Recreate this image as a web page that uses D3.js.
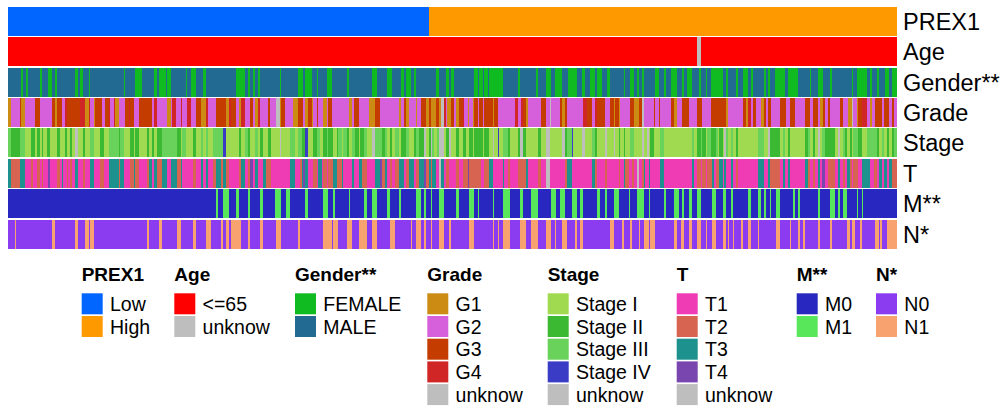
<!DOCTYPE html>
<html>
<head>
<meta charset="utf-8">
<script src="https://cdn.jsdelivr.net/npm/d3@7"></script>
<style>
  body { margin: 0; background: #fff; }
  text { font-family: "Liberation Sans", Arial, Helvetica, sans-serif; fill: #000; }
</style>
</head>
<body>
<svg id="chart" width="1005" height="411"></svg>
<script>

/////////////////////////////////
// DATA (one entry per sample)
//////////////////////////////////

var nSamples = 530;

// PREX1: the first samples are Low, the rest High
var prex1LowCount = 251;

// Age: everything is <=65 except these [start, end) samples
var ageUnknown = [[411, 413]];

// Gender: MALE except these FEMALE [start, end) samples
var genderFemale = [[8,9],[11,12],[19,20],[24,26],[28,29],[40,42],[43,45],[48,49],[69,70],[76,80],
  [87,89],[90,94],[95,97],[106,107],[109,112],[116,118],[136,141],[143,144],[146,147],[149,150],
  [162,163],[173,176],[177,181],[184,185],[190,193],[202,203],[217,220],[226,229],[234,236],[237,240],
  [242,243],[255,257],[261,263],[264,266],[278,280],[281,283],[284,286],[287,295],[304,305],[315,316],
  [321,324],[326,330],[334,339],[342,344],[347,350],[351,354],[357,359],[367,368],[371,373],[375,376],
  [378,379],[386,388],[391,392],[395,399],[402,403],[405,408],[412,413],[416,417],[419,426],[428,429],
  [434,435],[438,441],[443,444],[451,452],[453,454],[457,463],[465,471],[478,479],[483,486],[490,491],
  [503,504],[506,512],[514,515],[518,519],[523,525],[527,530]];

// Grade: [first sample, category] change points
var gradeBreaks = [[0,"G1"],[2,"G2"],[7,"G3"],[8,"G1"],[10,"G2"],[16,"G3"],[19,"G2"],[26,"G3"],[28,"G1"],[29,"G3"],
  [32,"G2"],[34,"G4"],[35,"G3"],[43,"G4"],[46,"G1"],[48,"G4"],[49,"G2"],[51,"G1"],[52,"G3"],[56,"G2"],
  [58,"G3"],[60,"G4"],[61,"G2"],[63,"G4"],[64,"G1"],[66,"G2"],[70,"G3"],[72,"G4"],[73,"G3"],[75,"G2"],
  [78,"G3"],[86,"G2"],[87,"G4"],[89,"G2"],[95,"G1"],[97,"G2"],[98,"G4"],[100,"G2"],[103,"G4"],[104,"G2"],
  [107,"G4"],[109,"G2"],[112,"G3"],[115,"G1"],[118,"G4"],[119,"G2"],[124,"G3"],[130,"G1"],[132,"G4"],[133,"G3"],
  [136,"G2"],[138,"G1"],[139,"G4"],[141,"G2"],[144,"G3"],[146,"G2"],[147,"G1"],[149,"G4"],[150,"G2"],[155,"G3"],
  [156,"G2"],[160,"U"],[162,"G1"],[163,"G3"],[165,"G2"],[170,"G1"],[173,"G3"],[176,"G2"],[177,"G1"],[179,"G3"],
  [181,"G1"],[182,"G2"],[184,"G3"],[185,"G2"],[188,"G1"],[190,"G2"],[191,"G3"],[193,"G2"],[203,"G1"],[205,"G2"],
  [206,"G3"],[209,"G2"],[215,"G1"],[219,"G3"],[222,"G2"],[233,"G1"],[234,"G2"],[236,"G3"],[237,"G1"],[239,"G2"],
  [243,"G1"],[244,"G2"],[246,"G3"],[249,"G1"],[251,"G3"],[252,"G1"],[255,"G3"],[257,"G1"],[258,"U"],[260,"G4"],
  [261,"G2"],[262,"G1"],[264,"G3"],[266,"G2"],[267,"G1"],[269,"G3"],[271,"G4"],[272,"G2"],[274,"G1"],[275,"G2"],
  [277,"G1"],[278,"G3"],[280,"G2"],[281,"G3"],[283,"G2"],[284,"G3"],[289,"G1"],[290,"G3"],[292,"G2"],[302,"G4"],
  [304,"G2"],[306,"G4"],[307,"G3"],[309,"G1"],[310,"G2"],[318,"G3"],[321,"G2"],[323,"U"],[324,"G2"],[329,"G3"],
  [330,"G1"],[332,"G3"],[333,"G2"],[343,"G4"],[345,"G3"],[348,"G2"],[350,"G4"],[351,"G3"],[356,"G2"],[359,"G3"],
  [361,"G1"],[362,"G3"],[364,"G1"],[365,"G2"],[371,"G3"],[373,"G1"],[376,"G3"],[378,"U"],[379,"G2"],[385,"G3"],
  [386,"G2"],[388,"G3"],[389,"G2"],[395,"G3"],[397,"G1"],[399,"G2"],[402,"G3"],[406,"G2"],[411,"G3"],[414,"G2"],
  [419,"G3"],[428,"G1"],[429,"G2"],[438,"G3"],[440,"G1"],[441,"G4"],[443,"G2"],[444,"G3"],[446,"G2"],[449,"G1"],
  [451,"G3"],[452,"G2"],[453,"G3"],[455,"G2"],[460,"G3"],[464,"G2"],[466,"G3"],[469,"G2"],[475,"G3"],[478,"G2"],
  [480,"G3"],[483,"G2"],[484,"G1"],[486,"G3"],[487,"G2"],[489,"G3"],[490,"G2"],[496,"G3"],[498,"G2"],[501,"G1"],
  [503,"U"],[504,"G2"],[506,"G1"],[507,"G3"],[509,"G4"],[512,"G2"],[514,"G1"],[515,"G2"],[517,"G3"],[521,"G2"],
  [522,"G3"],[525,"G2"],[527,"G3"],[528,"G2"]];

// Stage: [first sample, category] change points
var stageBreaks = [[0,"S3"],[2,"S2"],[7,"S3"],[10,"S1"],[14,"S2"],[16,"S1"],[17,"S2"],[19,"S1"],[20,"S2"],[21,"S1"],
  [23,"S2"],[25,"S1"],[29,"S2"],[31,"S1"],[34,"S2"],[35,"S1"],[37,"S2"],[38,"S1"],[40,"U"],[42,"S1"],
  [45,"S2"],[46,"S1"],[49,"S3"],[51,"S1"],[55,"S2"],[57,"S1"],[60,"S3"],[66,"S2"],[67,"S3"],[69,"S1"],
  [73,"S2"],[75,"S1"],[76,"S2"],[78,"S1"],[83,"S2"],[84,"S1"],[86,"S2"],[87,"S1"],[89,"S2"],[92,"S3"],
  [101,"S2"],[103,"S1"],[104,"S3"],[106,"S1"],[110,"S2"],[112,"S1"],[115,"S3"],[116,"S1"],[118,"S3"],[119,"S1"],
  [122,"S3"],[128,"S4"],[130,"S1"],[138,"S2"],[139,"S1"],[141,"S3"],[143,"S2"],[144,"S1"],[147,"S3"],[149,"S1"],
  [150,"S2"],[152,"S1"],[155,"S2"],[157,"S1"],[162,"U"],[163,"S1"],[168,"S3"],[171,"S1"],[173,"S3"],[175,"S2"],
  [177,"S4"],[179,"S1"],[182,"S2"],[184,"S3"],[186,"S1"],[188,"S2"],[190,"S3"],[191,"S2"],[194,"S1"],[196,"S2"],
  [197,"S3"],[199,"S1"],[200,"S3"],[202,"S2"],[203,"S1"],[205,"S3"],[207,"S2"],[209,"S1"],[210,"S2"],[212,"S3"],
  [214,"S1"],[217,"U"],[219,"S3"],[223,"S2"],[225,"S3"],[226,"S1"],[228,"S2"],[229,"S1"],[231,"S3"],[233,"S1"],
  [234,"S2"],[237,"S3"],[239,"S1"],[242,"S2"],[243,"S3"],[245,"S2"],[248,"U"],[249,"S1"],[251,"S2"],[252,"U"],
  [253,"S3"],[254,"S1"],[256,"S3"],[257,"U"],[260,"S1"],[261,"S2"],[263,"U"],[264,"S1"],[267,"S2"],[269,"S1"],
  [271,"S2"],[273,"S1"],[275,"S2"],[277,"S1"],[278,"S2"],[283,"S1"],[284,"S2"],[287,"S1"],[289,"U"],[290,"S1"],
  [292,"S4"],[293,"S1"],[295,"S3"],[298,"S2"],[299,"S1"],[304,"S2"],[305,"U"],[307,"S2"],[309,"S1"],[316,"S2"],
  [318,"S1"],[321,"U"],[323,"S1"],[330,"U"],[332,"S2"],[333,"S3"],[336,"S4"],[337,"S1"],[342,"U"],[344,"S1"],
  [348,"S3"],[350,"S2"],[351,"S1"],[356,"U"],[357,"S1"],[361,"U"],[362,"S1"],[364,"S2"],[365,"S1"],[367,"S2"],
  [368,"S1"],[371,"S3"],[373,"S1"],[378,"U"],[379,"S1"],[381,"U"],[382,"S1"],[383,"S2"],[385,"S1"],[389,"S3"],
  [391,"S1"],[408,"S3"],[409,"S1"],[411,"S2"],[413,"S3"],[414,"S2"],[416,"S1"],[417,"S3"],[419,"S2"],[422,"S3"],
  [423,"S1"],[424,"S2"],[426,"S1"],[427,"U"],[428,"S3"],[429,"S1"],[431,"S3"],[432,"S1"],[434,"S2"],[435,"S1"],
  [447,"S3"],[451,"S1"],[453,"U"],[454,"S2"],[460,"S1"],[462,"S3"],[463,"S1"],[465,"S2"],[466,"S1"],[475,"S2"],
  [477,"S3"],[478,"S1"],[480,"S2"],[481,"S1"],[483,"U"],[484,"S1"],[485,"S3"],[487,"S2"],[493,"S1"],[495,"U"],
  [496,"S1"],[498,"S3"],[499,"S2"],[500,"S1"],[502,"S2"],[503,"S1"],[504,"S3"],[507,"S2"],[509,"S1"],[512,"S3"],
  [518,"S2"],[519,"S1"],[521,"S3"],[522,"S1"],[524,"S2"],[525,"S1"],[527,"S2"],[528,"S3"]];

// T: [first sample, category] change points
var tBreaks = [[0,"T3"],[2,"T2"],[7,"T3"],[10,"T1"],[14,"T2"],[15,"T1"],[17,"T2"],[19,"T1"],[20,"T2"],[21,"T1"],
  [24,"T4"],[25,"T1"],[29,"T2"],[31,"T1"],[32,"T3"],[33,"T1"],[35,"T2"],[36,"T1"],[37,"T2"],[38,"T1"],
  [40,"T3"],[42,"T1"],[45,"T2"],[46,"T1"],[49,"T3"],[51,"T1"],[55,"T2"],[57,"T1"],[60,"T3"],[66,"T2"],
  [67,"T3"],[69,"T1"],[73,"T2"],[75,"T3"],[76,"T2"],[78,"T1"],[83,"T2"],[84,"T3"],[86,"T1"],[87,"T3"],
  [89,"T2"],[92,"T3"],[95,"T1"],[97,"T3"],[101,"T2"],[103,"T3"],[104,"T1"],[110,"T2"],[112,"T1"],[115,"T3"],
  [116,"T1"],[118,"T3"],[119,"T1"],[122,"T2"],[124,"T3"],[127,"T2"],[128,"T3"],[130,"T2"],[132,"T1"],[138,"T2"],
  [139,"T3"],[141,"T1"],[143,"T2"],[144,"T4"],[146,"T1"],[147,"T3"],[149,"T1"],[152,"T3"],[154,"T2"],[157,"T1"],
  [168,"T3"],[171,"T1"],[174,"T2"],[175,"T3"],[176,"T4"],[177,"T3"],[179,"T1"],[182,"T2"],[184,"T1"],[185,"T3"],
  [187,"T1"],[188,"T2"],[190,"T1"],[191,"T2"],[194,"T3"],[196,"T2"],[199,"T3"],[200,"T1"],[205,"T3"],[206,"T1"],
  [209,"T3"],[211,"T2"],[214,"T1"],[219,"T3"],[222,"T4"],[223,"T2"],[225,"T3"],[226,"T1"],[228,"T2"],[229,"T1"],
  [231,"T2"],[233,"T3"],[236,"T1"],[237,"T2"],[239,"T3"],[242,"T1"],[243,"T2"],[245,"T3"],[248,"T4"],[249,"T2"],
  [251,"T3"],[252,"T2"],[253,"T3"],[255,"T1"],[257,"U"],[258,"T3"],[260,"T1"],[261,"T2"],[263,"T1"],[267,"T2"],
  [269,"T1"],[271,"T2"],[274,"T4"],[275,"T2"],[282,"T1"],[284,"T2"],[287,"T3"],[289,"T1"],[295,"T3"],[296,"T1"],
  [298,"T2"],[299,"T1"],[304,"T2"],[309,"T3"],[310,"T1"],[316,"T2"],[318,"T1"],[321,"U"],[323,"T1"],[332,"T2"],
  [333,"T3"],[336,"T1"],[348,"T3"],[350,"T2"],[351,"T1"],[356,"T2"],[357,"T1"],[364,"T2"],[365,"T1"],[367,"T3"],
  [368,"T2"],[370,"T1"],[372,"T2"],[373,"T1"],[375,"U"],[376,"T1"],[378,"T2"],[379,"T3"],[380,"T1"],[382,"T3"],
  [383,"T1"],[389,"T3"],[391,"T1"],[408,"T3"],[409,"T1"],[411,"T2"],[413,"T1"],[414,"T2"],[416,"T1"],[417,"T2"],
  [420,"T3"],[421,"T1"],[422,"T2"],[424,"T3"],[426,"T1"],[427,"T3"],[428,"T1"],[431,"T3"],[432,"T1"],[434,"T2"],
  [435,"T1"],[447,"T3"],[451,"T1"],[453,"T3"],[454,"T2"],[460,"T1"],[462,"T3"],[463,"T1"],[465,"T3"],[466,"T1"],
  [475,"T3"],[477,"T2"],[478,"T1"],[480,"T2"],[481,"T1"],[483,"T3"],[484,"T1"],[485,"T4"],[487,"T1"],[489,"T2"],
  [493,"T1"],[495,"T3"],[496,"T1"],[498,"T2"],[499,"T1"],[500,"T3"],[502,"T2"],[503,"T1"],[504,"T2"],[507,"T1"],
  [509,"T3"],[514,"T1"],[516,"T2"],[518,"T1"],[519,"T3"],[521,"T1"],[522,"T3"],[524,"T1"],[525,"T3"],[527,"T2"]];

// M: M0 except these M1 [start, end) samples
var mPositive = [[124,125],[128,132],[136,138],[143,144],[150,152],[159,163],[166,168],[177,179],[188,191],[194,195],
  [203,204],[212,214],[217,220],[226,228],[233,234],[243,246],[248,249],[252,253],[257,260],[267,269],
  [275,278],[280,281],[289,290],[295,299],[305,307],[312,316],[324,327],[329,332],[336,339],[341,343],
  [351,353],[356,357],[361,364],[370,371],[375,379],[382,383],[391,392],[397,400],[402,403],[406,408],
  [411,413],[420,422],[426,428],[431,432],[441,443],[447,449],[451,452],[454,455],[458,460],[468,469],
  [471,472],[483,484],[490,493],[495,496],[498,500],[506,507],[509,510]];

// N: N0 except these N1 [start, end) samples
var nPositive = [[4,5],[26,28],[40,42],[46,48],[49,51],[83,84],[90,92],[101,103],[110,112],[118,121],
  [127,128],[130,132],[133,139],[143,144],[150,152],[160,163],[173,174],[188,193],[194,197],[202,205],
  [209,214],[217,220],[228,231],[240,241],[243,246],[248,249],[252,253],[257,260],[263,264],[275,278],
  [289,290],[292,293],[295,299],[305,309],[312,316],[321,324],[326,327],[330,333],[338,339],[341,343],
  [359,361],[366,367],[371,372],[376,377],[379,382],[383,386],[397,399],[401,403],[406,408],[411,413],
  [416,417],[420,422],[426,428],[429,430],[432,433],[437,438],[441,443],[447,448],[458,460],[466,467],
  [471,472],[474,475],[483,484],[490,491],[500,502],[503,505],[508,509],[517,519],[520,521],[524,530]];


/////////////////////////////////
// CATEGORIES AND COLOURS
//////////////////////////////////

var annotations = [
  { name: "PREX1",    legend: "PREX1",    codes: ["Low", "High"],               labels: ["Low", "High"],
    colors: ["#0066FF", "#FF9900"] },
  { name: "Age",      legend: "Age",      codes: ["Y", "U"],                    labels: ["<=65", "unknow"],
    colors: ["#FF0000", "#BEBEBE"] },
  { name: "Gender**", legend: "Gender**", codes: ["F", "M"],                    labels: ["FEMALE", "MALE"],
    colors: ["#10BB22", "#236A92"] },
  { name: "Grade",    legend: "Grade",    codes: ["G1", "G2", "G3", "G4", "U"], labels: ["G1", "G2", "G3", "G4", "unknow"],
    colors: ["#CC8C14", "#D660DC", "#C43C00", "#D02626", "#BEBEBE"] },
  { name: "Stage",    legend: "Stage",    codes: ["S1", "S2", "S3", "S4", "U"], labels: ["Stage I", "Stage II", "Stage III", "Stage IV", "unknow"],
    colors: ["#A0DA50", "#3CB932", "#69D25A", "#3A3CC6", "#BEBEBE"] },
  { name: "T",        legend: "T",        codes: ["T1", "T2", "T3", "T4", "U"], labels: ["T1", "T2", "T3", "T4", "unknow"],
    colors: ["#F03CB4", "#D66450", "#1C918D", "#7846AE", "#BEBEBE"] },
  { name: "M**",      legend: "M**",      codes: ["M0", "M1"],                  labels: ["M0", "M1"],
    colors: ["#2828C0", "#58E65A"] },
  { name: "N*",       legend: "N*",       codes: ["N0", "N1"],                  labels: ["N0", "N1"],
    colors: ["#8C3CF0", "#F8A270"] }
];


/////////////////////////////////
// BUILD PER-SAMPLE VALUES
//////////////////////////////////

function fromBreaks(breaks) {
  var out = new Array(nSamples);
  breaks.forEach(function(b, i) {
    var end = i < breaks.length - 1 ? breaks[i + 1][0] : nSamples;
    for (var s = b[0]; s < end; s++) { out[s] = b[1]; }
  });
  return out;
}

function fromIntervals(base, alt, intervals) {
  var out = d3.range(nSamples).map(function() { return base; });
  intervals.forEach(function(iv) {
    for (var s = iv[0]; s < iv[1]; s++) { out[s] = alt; }
  });
  return out;
}

annotations[0].values = d3.range(nSamples).map(function(i) { return i < prex1LowCount ? "Low" : "High"; });
annotations[1].values = fromIntervals("Y", "U", ageUnknown);
annotations[2].values = fromIntervals("M", "F", genderFemale);
annotations[3].values = fromBreaks(gradeBreaks);
annotations[4].values = fromBreaks(stageBreaks);
annotations[5].values = fromBreaks(tBreaks);
annotations[6].values = fromIntervals("M0", "M1", mPositive);
annotations[7].values = fromIntervals("N0", "N1", nPositive);

// merge neighbours with the same value so there are no seams
function toRuns(values) {
  var runs = [];
  values.forEach(function(v, i) {
    var last = runs[runs.length - 1];
    if (last && last.value === v) { last.end = i + 1; }
    else { runs.push({ value: v, start: i, end: i + 1 }); }
  });
  return runs;
}


/////////////////////////////////
// SCALES
//////////////////////////////////

var svg = d3.select("#chart");

var x = d3.scaleLinear()
  .domain([0, nSamples])
  .range([8, 897]);

var y = d3.scaleBand()
  .domain(annotations.map(function(d) { return d.name; }))
  .range([6.7, 248.7])
  .paddingInner(0.047);


/////////////////////////////////
// DRAW THE ANNOTATION ROWS
//////////////////////////////////

var rowGroups = svg.selectAll("g.annoRow")
  .data(annotations)
  .enter()
  .append("g")
    .attr("class", "annoRow");

rowGroups.each(function(row) {
  var color = d3.scaleOrdinal().domain(row.codes).range(row.colors);

  d3.select(this).selectAll("rect")
    .data(toRuns(row.values))
    .enter()
    .append("rect")
      .attr("x", function(d) { return x(d.start); })
      .attr("width", function(d) { return x(d.end) - x(d.start); })
      .attr("y", y(row.name))
      .attr("height", y.bandwidth())
      .attr("shape-rendering", "crispEdges")
      .attr("fill", function(d) { return color(d.value); });
});

// row names on the right
svg.selectAll("text.rowName")
  .data(annotations)
  .enter()
  .append("text")
    .attr("class", "rowName")
    .attr("x", 903)
    .attr("y", function(d) { return y(d.name) + y.bandwidth() / 2; })
    .attr("dy", "0.36em")
    .style("font-size", "23.5px")
    .text(function(d) { return d.name; });


/////////////////////////////////
// DRAW THE LEGEND
//////////////////////////////////

var legendX = [81.7, 174.3, 295, 427.3, 547.7, 676.7, 796.7, 876];
var legendTop = 293.3;
var legendStep = 22.7;
var keySize = 21;

var legendGroups = svg.selectAll("g.legendCol")
  .data(annotations)
  .enter()
  .append("g")
    .attr("class", "legendCol")
    .attr("transform", function(d, i) { return "translate(" + legendX[i] + ",0)"; });

legendGroups.append("text")
  .attr("x", 0)
  .attr("y", 281)
  .style("font-size", "19px")
  .style("font-weight", "bold")
  .text(function(d) { return d.legend; });

legendGroups.each(function(col) {
  var g = d3.select(this);
  var items = col.codes.map(function(c, i) { return { label: col.labels[i], color: col.colors[i] }; });

  g.selectAll("rect")
    .data(items)
    .enter()
    .append("rect")
      .attr("x", 0)
      .attr("y", function(d, i) { return legendTop + i * legendStep; })
      .attr("width", keySize)
      .attr("height", keySize)
      .attr("fill", function(d) { return d.color; });

  g.selectAll("text.item")
    .data(items)
    .enter()
    .append("text")
      .attr("class", "item")
      .attr("x", keySize + 7.3)
      .attr("y", function(d, i) { return legendTop + i * legendStep + 17.7; })
      .style("font-size", "19.5px")
      .text(function(d) { return d.label; });
});

</script>
</body>
</html>
